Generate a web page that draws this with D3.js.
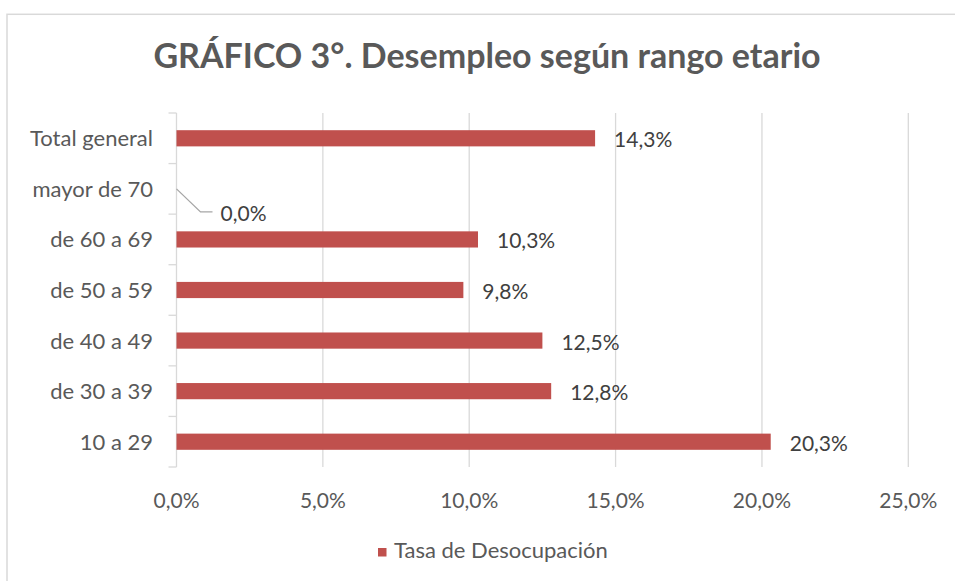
<!DOCTYPE html>
<html>
<head>
<meta charset="utf-8">
<script src="https://cdn.jsdelivr.net/npm/d3@7"></script>
<style>
  body { margin: 0; background: #fff; }
  text { font-family: Lato, "Open Sans", sans-serif; }
</style>
</head>
<body>
<svg id="chart"></svg>
<script>
// data, top to bottom as shown
var categories = ["Total general", "mayor de 70", "de 60 a 69", "de 50 a 59", "de 40 a 49", "de 30 a 39", "10 a 29"];
var values     = [14.3, 0.0, 10.3, 9.8, 12.5, 12.8, 20.3];
var xTicks     = [0, 5, 10, 15, 20, 25];
var seriesName = "Tasa de Desocupación";
var title      = "GRÁFICO 3°. Desempleo según rango etario";

var width = 955, height = 581;
var barColor = "#C0504D", gridColor = "#D9D9D9", textColor = "#595959";
var fmt = function(v){ return v.toFixed(1).replace(".", ",") + "%"; };

var svg = d3.select("#chart").attr("width", width).attr("height", height);

// chart frame
svg.append("rect").attr("x", 7).attr("y", 14.3).attr("width", width + 10).attr("height", height + 10)
    .style("fill", "none").style("stroke", gridColor).style("stroke-width", 1.5);

svg.append("text").attr("x", 487).attr("y", 68).attr("text-anchor", "middle")
    .style("font-size", "34px").style("font-weight", "bold").style("fill", textColor)
    .text(title);

var x = d3.scaleLinear().domain([0, 25]).range([176.5, 908.3]);
var y = d3.scaleBand().domain(categories).range([113, 467]).paddingInner(0.68).paddingOuter(0.34);
var yb = d3.scaleBand().domain(categories).range([113, 467]);

// gridlines
svg.append("g").selectAll("line").data(xTicks.slice(1)).join("line")
    .attr("x1", x).attr("x2", x).attr("y1", 113).attr("y2", 467)
    .style("stroke", gridColor).style("stroke-width", 1.3);

// x tick labels
svg.append("g").selectAll("text").data(xTicks).join("text")
    .attr("x", x).attr("y", 508).attr("text-anchor", "middle")
    .style("font-size", "21px").style("fill", textColor)
    .text(fmt);

// left axis with tick marks between categories
var bounds = categories.map(function(c){ return yb(c); }).concat([467]);
svg.append("line").attr("x1", x(0)).attr("x2", x(0)).attr("y1", 113).attr("y2", 467)
    .style("stroke", gridColor).style("stroke-width", 1.3);
svg.append("g").selectAll("line").data(bounds).join("line")
    .attr("x1", x(0) - 8).attr("x2", x(0)).attr("y1", function(d){ return d; }).attr("y2", function(d){ return d; })
    .style("stroke", gridColor).style("stroke-width", 1.3);

svg.append("g").selectAll("text").data(categories).join("text")
    .attr("x", 153).attr("y", function(d){ return y(d) + y.bandwidth() / 2 + 8; })
    .attr("text-anchor", "end")
    .style("font-size", "22px").style("fill", textColor)
    .text(function(d){ return d; });

// bars
svg.append("g").selectAll("rect").data(values).join("rect")
    .attr("x", x(0))
    .attr("y", function(d, i){ return y(categories[i]); })
    .attr("width", function(d){ return x(d) - x(0); })
    .attr("height", y.bandwidth())
    .style("fill", barColor);

// data labels
svg.append("g").selectAll("text").data(values).join("text")
    .attr("x", function(d){ return d > 0 ? x(d) + 19 : x(d) + 44; })
    .attr("y", function(d, i){ return y(categories[i]) + y.bandwidth() / 2 + (d > 0 ? 9 : 32); })
    .style("font-size", "21px").style("fill", "#404040")
    .text(fmt);

// leader line for the zero value
values.forEach(function(d, i){
    if(d > 0) return;
    var cy = y(categories[i]) + y.bandwidth() / 2;
    svg.append("polyline")
        .attr("points", x(0) + "," + cy + " " + (x(0) + 24) + "," + (cy + 23) + " " + (x(0) + 36) + "," + (cy + 23))
        .style("fill", "none").style("stroke", "#A6A6A6").style("stroke-width", 1.3);
});

// legend
var lg = svg.append("g").attr("transform", "translate(378,548)");
lg.append("rect").attr("width", 8.5).attr("height", 8.5).style("fill", barColor);
lg.append("text").attr("x", 16).attr("y", 10).style("font-size", "22px").style("fill", textColor).text(seriesName);
</script>
</body>
</html>
